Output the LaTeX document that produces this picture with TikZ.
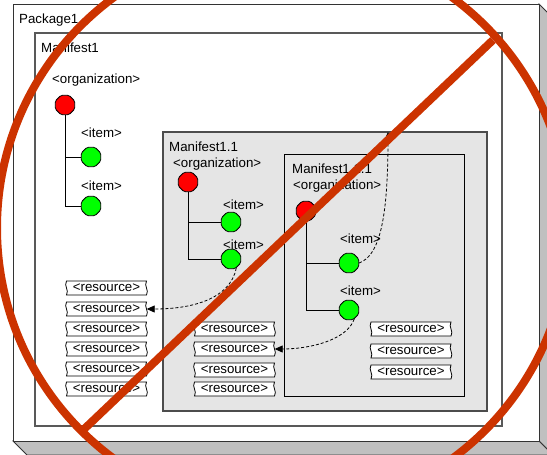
\documentclass[tikz,border=0pt]{standalone}
\usepackage{fontspec}
\setmainfont{Liberation Sans}
\usetikzlibrary{shapes.geometric,arrows.meta}
\definecolor{nored}{RGB}{204,51,0}
\definecolor{boxgray}{RGB}{229,229,229}
\definecolor{facegray}{RGB}{192,192,192}
\definecolor{octred}{RGB}{255,0,0}
\definecolor{octgreen}{RGB}{0,255,0}
\tikzset{
 lbl/.style={anchor=west, inner sep=0pt, font=\fontsize{13.3}{15}\selectfont},
 oct/.style={regular polygon, regular polygon sides=8, minimum size=21pt, inner sep=0pt, draw=black, line width=0.8pt, rounded corners=1.5pt},
 redoct/.style={oct, fill=octred},
 greenoct/.style={oct, fill=octgreen},
 tree/.style={line width=0.9pt},
 restext/.style={font=\fontsize{13.3}{15}\selectfont, inner sep=0pt, minimum width=80pt, minimum height=14pt},
 resframe/.style={draw=black, fill=white, line width=0.8pt},
 dep/.style={dash pattern=on 3pt off 2pt, line width=0.8pt, -{Triangle[length=8pt,width=7pt]}},
 nosign/.style={draw=nored, line width=8pt},
 frame/.style={draw, anchor=north west, inner sep=0pt, outer sep=0pt},
}
\newcommand\resbox[3]{%
 \path[resframe] (#2-40,#3-7) -- (#2+40,#3-7) .. controls (#2+37,#3-2) and (#2+43,#3+2) .. (#2+40,#3+7) -- (#2-40,#3+7) .. controls (#2-37,#3+2) and (#2-43,#3-2) .. cycle;
 \node[restext] (#1) at (#2,#3) {<resource>};
}
\begin{document}
\begin{tikzpicture}[x=1pt,y=-1pt]
\useasboundingbox (0,0) rectangle (547,455);
\clip (0,0) rectangle (547,455);
% package 3D box
\filldraw[fill=facegray, draw=black!80, line width=0.8pt] (539,4) -- (553,18) -- (553,455) -- (539,441) -- cycle;
\filldraw[fill=facegray, draw=black!80, line width=0.8pt] (13,441) -- (27,455) -- (553,455) -- (539,441) -- cycle;
\node[frame, fill=white, draw=black!80, line width=0.9pt, minimum width=526pt, minimum height=437pt] (pkg) at (13,4) {};
\node[frame, fill=white, draw=black!65, line width=1.2pt, minimum width=467pt, minimum height=393pt] (m1) at (35,33) {};
\node[frame, fill=boxgray, draw=black!70, line width=1.2pt, minimum width=324pt, minimum height=279pt] (m11) at (163,132) {};
\node[frame, fill=boxgray, draw=black, line width=0.9pt, minimum width=180pt, minimum height=242pt] (m111) at (284,154) {};
% labels
\node[lbl] (tp) at (19,20) {Package1};
\node[lbl] (t1) at (41,48) {Manifest1};
\node[lbl] (o1) at (52,80) {<organization>};
\node[lbl] (i11) at (81,133) {<item>};
\node[lbl] (i12) at (81,186) {<item>};
\node[lbl] (t11) at (169,147) {Manifest1.1};
\node[lbl] (o11) at (173,164) {<organization>};
\node[lbl] (i111) at (223,205) {<item>};
\node[lbl] (i112) at (223,245) {<item>};
\node[lbl] (t111) at (292,169) {Manifest1.1.1};
\node[lbl] (o111) at (293,186) {<organization>};
\node[lbl] (i1111) at (340,239) {<item>};
\node[lbl] (i1112) at (340,291) {<item>};
% trees
\node[redoct] (r1) at (65,105) {};
\node[greenoct] (g11) at (91,157) {};
\node[greenoct] (g12) at (91,206) {};
\draw[tree] (r1.south) |- (g11.west);
\draw[tree] (r1.south) |- (g12.west);
\node[redoct] (r11) at (188,182) {};
\node[greenoct] (g111) at (231,222) {};
\node[greenoct] (g112) at (231,259) {};
\draw[tree] (r11.south) |- (g111.west);
\draw[tree] (r11.south) |- (g112.west);
\node[redoct] (r111) at (306,211) {};
\node[greenoct] (g1111) at (349,263) {};
\node[greenoct] (g1112) at (349,310) {};
\draw[tree] (r111.south) |- (g1111.west);
\draw[tree] (r111.south) |- (g1112.west);
% resources
\resbox{rl1}{106.5}{288}
\resbox{rl2}{106.5}{309}
\resbox{rl3}{106.5}{329}
\resbox{rl4}{106.5}{349}
\resbox{rl5}{106.5}{369}
\resbox{rl6}{106.5}{389}
\resbox{rm1}{234.5}{329}
\resbox{rm2}{234.5}{349}
\resbox{rm3}{234.5}{370}
\resbox{rm4}{234.5}{389}
\resbox{rr1}{411}{329}
\resbox{rr2}{411}{351}
\resbox{rr3}{411}{372}
% dependencies
\coordinate (tgt) at (388,132);
\draw[dep] (g112.-60) .. controls (230,300) and (190,309) .. (rl2.east);
\draw[dep] (g1112.-60) .. controls (347,340) and (310,349) .. (rm2.east);
\draw[dep] (g1111.east) .. controls (378,256) and (388,225) .. (tgt);
% prohibition sign
\draw[nosign] (283,228) circle (286);
\draw[nosign] (80,433) -- (493,40);
\end{tikzpicture}
\end{document}
